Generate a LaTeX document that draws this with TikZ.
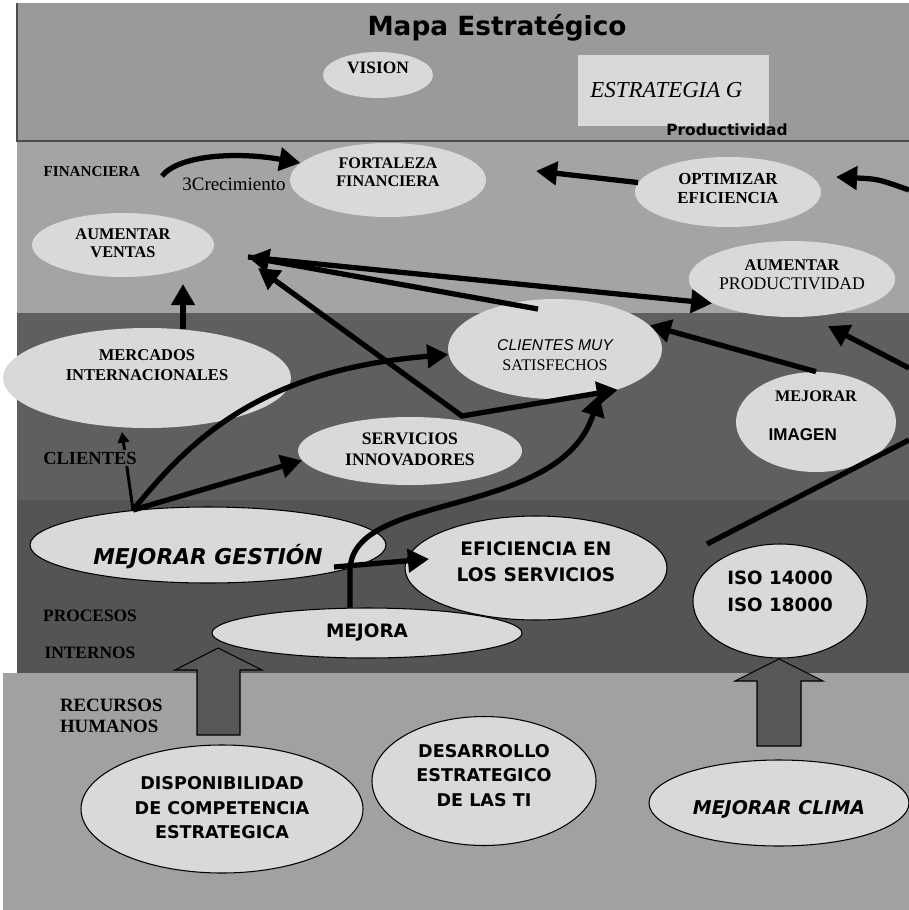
\documentclass[tikz,border=0pt]{standalone}
\usepackage{fontspec}
\setmainfont{Liberation Serif}
\newfontfamily\tnr{Liberation Serif}
\newfontfamily\ars{Liberation Sans}
\newfontfamily\cmc{DejaVu Sans}
\usetikzlibrary{arrows.meta,shapes.geometric}
\definecolor{topband}{HTML}{9A9A9A}
\definecolor{finband}{HTML}{A4A4A4}
\definecolor{cliband}{HTML}{5F5F5F}
\definecolor{proband}{HTML}{545454}
\definecolor{recband}{HTML}{A1A1A1}
\definecolor{ellfill}{HTML}{D9D9D9}
\definecolor{blockfill}{HTML}{575757}
\newcommand\shiftup[2]{\raisebox{#1}[\height][\depth]{\begin{tabular}{@{}c@{}}#2\end{tabular}}}
\begin{document}
\begin{tikzpicture}[x=0.02cm,y=-0.02cm,
  ell/.style 2 args={ellipse, fill=ellfill, minimum width=#1*0.02cm, minimum height=#2*0.02cm, inner sep=0pt},
  eo/.style={draw=black, line width=0.6pt},
  sb/.style 2 args={font=\tnr\bfseries\fontsize{#1}{#2}\selectfont},
  sr/.style 2 args={font=\tnr\fontsize{#1}{#2}\selectfont},
  cm/.style 2 args={font=\cmc\bfseries\fontsize{#1}{#2}\selectfont},
  cmbi/.style 2 args={font=\cmc\bfseries\itshape\fontsize{#1}{#2}\selectfont},
  arr/.style={draw=black, line width=3pt, -{Triangle[length=12pt,width=13pt]}},
  dbl/.style={draw=black, line width=3pt, {Triangle[length=12pt,width=13pt]}-{Triangle[length=12pt,width=13pt]}},
  thinarr/.style={draw=black, line width=1.7pt, -{Triangle[length=6pt,width=6.5pt]}},
  plain/.style={draw=black, line width=3pt},
  blockarr/.style={fill=blockfill, draw=black, line width=0.6pt},
  lbl/.style={inner sep=1pt}
]
\useasboundingbox (0,0) rectangle (909,910);
\fill[white] (0,0) rectangle (909,910);
% bands
\fill[topband] (17,3) rectangle (909,141);
\fill[finband] (17,141) rectangle (909,313);
\fill[cliband] (17,313) rectangle (909,500);
\fill[proband] (17,500) rectangle (909,673);
\fill[recband] (3,673) rectangle (909,910);
\draw[black!70, line width=1pt] (17,3) -- (17,141) -- (909,141);

% top band
\node[font=\cmc\bfseries\fontsize{15}{18}\selectfont] (title) at (497,28) {Mapa Estratégico};
\node[ell={110}{46}, sb={9.9}{11}] (vision) at (378,75) {\shiftup{2.8pt}{VISION}};
\node[rectangle, fill=ellfill, minimum width=191*0.02cm, minimum height=71*0.02cm, inner sep=0pt,
      font=\tnr\itshape\fontsize{13}{15}\selectfont] (estr) at (673.5,90.5) {\hspace*{-8pt}ESTRATEGIA G};
\node[font=\cmc\bfseries\fontsize{8.8}{10}\selectfont] (prod) at (727,130) {Productividad};

% financiera band
\node[lbl, sb={8.6}{10}] (fin) at (92,172) {FINANCIERA};
\node[lbl, sr={10.8}{12}] (crec) at (234,184) {3Crecimiento};
\node[ell={196}{74}, sb={9.2}{10.3}] (fort) at (388,180) {\shiftup{3.4pt}{FORTALEZA\\FINANCIERA}};
\node[ell={186}{70}, sb={9.6}{10.8}] (opt) at (728,192) {\shiftup{1pt}{OPTIMIZAR\\EFICIENCIA}};
\node[ell={182}{64}, sb={9.3}{10.2}] (aumv) at (123,245) {\shiftup{0pt}{AUMENTAR\\VENTAS}};
\node[ell={198}{76}, sr={10.1}{10.8}] (aump) at (792,279) {\shiftup{1.7pt}{{\bfseries\fontsize{9.3}{10.8}\selectfont AUMENTAR}\\PRODUCTIVIDAD}};

% clientes band
\node[ell={288}{100}, sb={9.4}{11.4}] (merc) at (147,378) {\shiftup{6.3pt}{MERCADOS\\INTERNACIONALES}};
\node[ell={214}{100}, sr={9.2}{11.4}] (cms) at (555,349) {\shiftup{-4.5pt}{{\ars\itshape\fontsize{8.9}{11}\selectfont CLIENTES MUY}\\SATISFECHOS}};
\node[ell={160}{100}, sb={9.2}{10.5}] (mimg) at (816,422) {\shiftup{2.8pt}{MEJORAR\\[12pt]\hspace*{-15pt}{\ars\bfseries\fontsize{9.7}{10.5}\selectfont IMAGEN}}};
\node[ell={224}{68}, sb={10}{11.4}] (serv) at (410,451) {\shiftup{0pt}{SERVICIOS\\INNOVADORES}};

% procesos band
\node[ell={356}{76}, eo, cmbi={12.4}{14}] (gest) at (208,545) {\shiftup{-7.4pt}{MEJORAR GESTIÓN}};
\node[ell={262}{104}, eo, cm={10.6}{14.8}] (efic) at (536,568) {\shiftup{2.8pt}{EFICIENCIA EN\\LOS SERVICIOS}};
\node[ell={174}{114}, eo, cm={10.4}{15.3}] (iso) at (780,601) {\shiftup{5pt}{ISO 14000\\ISO 18000}};
\node[ell={310}{50}, eo, cm={10.5}{13}] (mejora) at (367,633) {\shiftup{0pt}{MEJORA}};
\node[lbl, sb={9.9}{11}] (procesos) at (90,616) {PROCESOS};
\node[lbl, sb={9.9}{11}] (internos) at (90,653) {INTERNOS};

% recursos band
\node[lbl, anchor=west, align=left, sb={10.7}{12}] (recursos) at (58,716) {RECURSOS\\HUMANOS};
\node[ell={282}{128}, eo, cm={10}{14.2}] (disp) at (222,809) {\shiftup{0pt}{DISPONIBILIDAD\\DE COMPETENCIA\\ESTRATEGICA}};
\node[ell={224}{129}, eo, cm={10}{14}] (desa) at (484,781) {\shiftup{2.3pt}{DESARROLLO\\ESTRATEGICO\\DE LAS TI}};
\node[ell={260}{86}, eo, cmbi={10.8}{13}] (clima) at (779,803) {\shiftup{-4pt}{MEJORAR CLIMA}};

% block arrows
\draw[blockarr] (197,735) -- (197,670) -- (175,670) -- (218,648) -- (262,670) -- (240,670) -- (240,735) -- cycle;
\draw[blockarr] (757,746) -- (757,681) -- (735,681) -- (779,659) -- (823,681) -- (801,681) -- (801,746) -- cycle;

% connectors
\coordinate (c0) at (162,176);
\draw[arr] (c0) .. controls (180,154) and (240,152) .. (fort.169);
\coordinate (o1) at (536,171);
\draw[arr] (opt.174) -- (o1);
\coordinate (r1) at (909,190);
\coordinate (r1e) at (836,177);
\draw[arr] (r1) .. controls (878,179) .. (r1e);
\coordinate (m1) at (183,329);
\coordinate (v1) at (183,284);
\draw[arr] (m1) -- (v1);
\coordinate (hub) at (248,257);
\coordinate (hub2) at (258,268);
\coordinate (cmsin) at (538,309);
\coordinate (corner) at (462,416);
\draw[arr] (cmsin) -- (hub);
\draw[arr] (hub) -- (aump.197);
\draw[dbl] (hub2) -- (corner) -- (cms.327);
\draw[arr] (mimg.north) -- (cms.14);
\coordinate (r2) at (909,368);
\coordinate (p1) at (828,326);
\draw[arr] (r2) -- (p1);
\coordinate (s1) at (707,544);
\coordinate (s2) at (909,440);
\draw[plain] (s1) -- (s2);
\coordinate (g1) at (gest.155);
\coordinate (m2) at (122,432);
\draw[arr] (g1) -- (serv.185);
\draw[arr] (g1) .. controls (190,440) and (260,370) .. (cms.183);
\draw[thinarr] (g1) -- (m2);
\coordinate (ge1) at (334,567);
\coordinate (ef1) at (429,559);
\draw[arr] (ge1) -- (ef1);
\coordinate (mj1) at (350,570);
\draw[arr] (mejora.124) -- (mj1) .. controls (352,490) and (560,520) .. (cms.314);

\node[lbl, fill=cliband, sb={10.5}{12}] (clientes) at (90,458) {CLIENTES};
\end{tikzpicture}
\end{document}
